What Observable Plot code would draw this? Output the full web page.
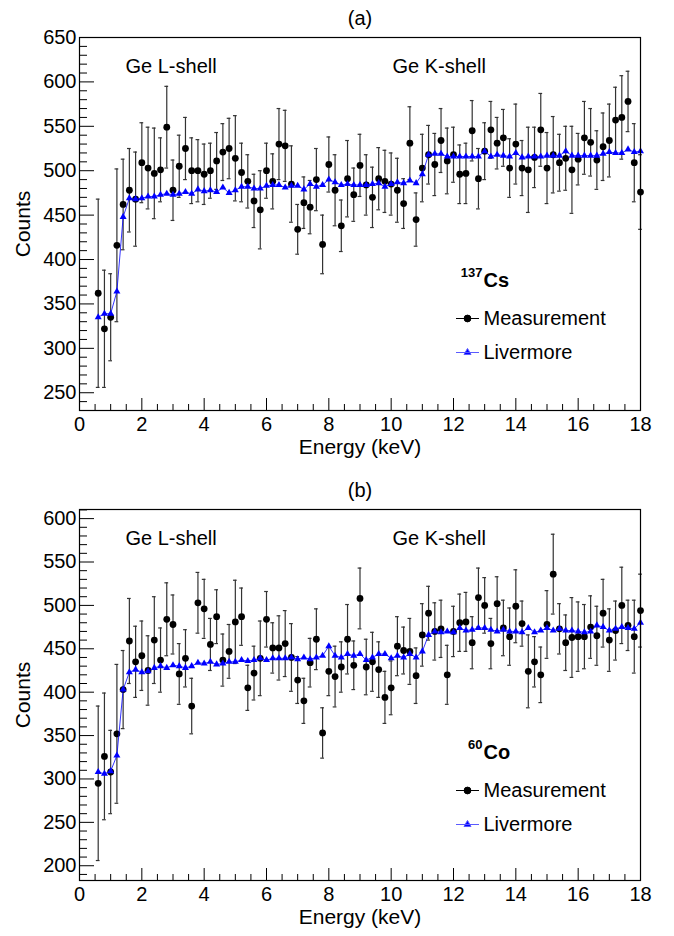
<!DOCTYPE html>
<html><head><meta charset="utf-8">
<script src="https://cdn.jsdelivr.net/npm/d3@7"></script>
<script src="https://cdn.jsdelivr.net/npm/@observablehq/plot@0.6"></script>
<style>
body{margin:0;background:#fff;}
#wrap{position:relative;width:674px;height:936px;overflow:hidden;}
#wrap svg{position:absolute;left:0;}
</style></head><body><div id="wrap"></div>
<script>
// Energy bins (keV)
const energy = [0.6,0.8,1.0,1.2,1.4,1.6,1.8,2.0,2.2,2.4,2.6,2.8,3.0,3.2,3.4,3.6,3.8,4.0,4.2,4.4,4.6,4.8,5.0,5.2,5.4,5.6,5.8,6.0,6.2,6.4,6.6,6.8,7.0,7.2,7.4,7.6,7.8,8.0,8.2,8.4,8.6,8.8,9.0,9.2,9.4,9.6,9.8,10.0,10.2,10.4,10.6,10.8,11.0,11.2,11.4,11.6,11.8,12.0,12.2,12.4,12.6,12.8,13.0,13.2,13.4,13.6,13.8,14.0,14.2,14.4,14.6,14.8,15.0,15.2,15.4,15.6,15.8,16.0,16.2,16.4,16.6,16.8,17.0,17.2,17.4,17.6,17.8,18.0];

// (a) 137Cs
const csMeas = [362,322,335,416,462,478,468,509,503,497,501,549,478,505,525,500,500,496,500,511,521,525,514,498,488,466,456,500,488,530,528,485,434,464,459,490,417,507,478,438,491,473,506,484,470,491,488,485,478,463,531,445,503,518,507,534,511,518,496,497,545,491,522,546,531,537,503,530,503,501,515,546,503,518,509,514,501,513,537,532,512,527,534,557,560,578,509,476];
const csErr = [106,66,49,86,51,47,53,45,46,51,36,46,34,35,35,37,35,34,31,32,32,34,48,33,30,30,44,31,31,40,40,43,28,29,30,35,33,31,40,29,43,30,35,34,34,35,35,35,36,28,41,30,38,33,35,36,37,31,33,34,34,34,32,32,29,32,33,45,31,48,34,41,40,43,32,36,49,29,41,38,33,38,41,37,47,34,44,42];
const csLiv = [335,339,339,364,448,469,468,469,471,471,473,474,473,474,476,474,479,477,478,476,481,475,478,482,482,480,480,483,484,484,481,483,483,479,485,482,484,490,487,484,485,484,484,484,485,486,482,485,487,486,489,486,496,518,519,519,516,516,516,516,516,516,522,516,518,517,516,520,515,516,516,516,517,517,517,522,517,517,517,517,517,519,521,520,520,524,521,522];

// (b) 60Co
const coMeas = [295,326,308,352,403,459,435,442,425,460,437,484,478,421,439,384,503,496,455,487,437,447,481,487,405,422,439,484,451,451,456,440,414,390,434,461,353,424,418,429,461,431,508,429,435,426,394,405,453,448,447,419,466,491,470,473,420,470,480,481,457,509,500,456,502,474,464,499,479,424,435,420,478,536,473,457,463,464,464,475,465,491,460,471,500,477,464,494];
const coErr = [89,73,48,80,45,49,41,40,40,50,37,42,34,35,33,32,35,34,30,31,30,31,48,33,26,31,43,32,29,37,38,39,27,26,28,35,29,28,35,29,40,28,35,32,34,32,30,31,34,27,38,32,36,31,33,33,34,29,33,34,30,34,32,29,31,32,33,42,26,42,29,32,39,46,29,32,46,40,37,36,34,39,36,34,44,29,42,42];
const coLiv = [308,306,309,327,403,423,426,423,424,428,430,428,431,430,428,430,434,433,435,432,433,435,435,437,436,437,439,437,439,439,439,440,438,440,438,440,442,453,442,440,444,442,444,437,440,444,444,439,442,440,444,440,447,466,470,469,470,469,474,471,472,474,474,472,470,472,470,470,469,474,469,471,474,471,473,471,471,470,469,470,477,475,471,473,475,474,473,480];

// Axis ticks
const xMajor = [0,2,4,6,8,10,12,14,16,18];
const yMajorA = [250,300,350,400,450,500,550,600,650];
const yMajorB = [200,250,300,350,400,450,500,550,600];
const panelTitles = ["(a)", "(b)"];
const shellLabels = ["Ge L-shell", "Ge K-shell"];
const legendLabels = ["Measurement", "Livermore"];

const FONT = "'Liberation Sans', Arial, Helvetica, sans-serif";
const W = 674, ML = 79, MR = 34;

const measSymbol = {draw(ctx, size) {
  const r = Math.sqrt(size / Math.PI);
  ctx.moveTo(-11.5, 0); ctx.lineTo(11.5, 0);
  ctx.moveTo(r, 0); ctx.arc(0, 0, r, 0, 2 * Math.PI);
}};
const livSymbol = {draw(ctx, size) {
  ctx.moveTo(-11.5, 0); ctx.lineTo(11.5, 0);
  d3.symbolTriangle.draw(ctx, size);
}};

function panel({meas, err, liv, yDomain, yMajor, title, mass, iso, top, height, marginTop, marginBottom}) {
  const rows = energy.map((e, i) => ({e, m: meas[i], lo: meas[i] - err[i], hi: meas[i] + err[i], l: liv[i]}));
  const fw = W - ML - MR, fh = height - marginTop - marginBottom;
  const xMinor = d3.range(0, 18.01, 0.5).filter(v => v % 2 !== 0);
  const yMinor = d3.range(Math.ceil(yDomain[0] / 10) * 10, yDomain[1] + 0.01, 10).filter(v => v % 50 !== 0);
  const txt = (s, o) => Plot.text([s], {text: d => d, lineAnchor: "middle", fontSize: 20, fill: "#000", ...o});
  const svg = Plot.plot({
    width: W, height, marginLeft: ML, marginRight: MR, marginTop, marginBottom,
    style: {fontFamily: FONT, fontSize: "20px", color: "#000", background: "#fff", overflow: "visible"},
    x: {domain: [0, 18]},
    y: {domain: yDomain},
    marks: [
      Plot.axisX(xMajor, {tickSize: 0, tickPadding: 6, fontSize: 20, label: null, tickFormat: d => String(d)}),
      Plot.axisY(yMajor, {tickSize: 0, tickPadding: 3, fontSize: 20, label: null, tickFormat: d => String(d)}),
      Plot.ruleX(xMajor, {x: d => d, insetTop: fh - 12, stroke: "#000", strokeWidth: 1}),
      Plot.ruleX(xMinor, {x: d => d, insetTop: fh - 6, stroke: "#000", strokeWidth: 1}),
      Plot.ruleY(yMajor, {y: d => d, insetRight: fw - 15, stroke: "#000", strokeWidth: 1}),
      Plot.ruleY(yMinor, {y: d => d, insetRight: fw - 8, stroke: "#000", strokeWidth: 1}),
      // error bars
      Plot.ruleX(rows, {x: "e", y1: "lo", y2: "hi", stroke: "#333", strokeWidth: 1.2}),
      Plot.ruleY(rows, {y: "hi", x1: d => d.e - 0.06, x2: d => d.e + 0.06, stroke: "#333", strokeWidth: 1.2}),
      Plot.ruleY(rows, {y: "lo", x1: d => d.e - 0.06, x2: d => d.e + 0.06, stroke: "#333", strokeWidth: 1.2}),
      Plot.dot(rows, {x: "e", y: "m", r: 3.4, fill: "#000", stroke: null}),
      Plot.line(rows, {x: "e", y: "l", stroke: "#0000ff", strokeWidth: 0.8}),
      Plot.dot(rows, {x: "e", y: "l", r: 2.6, symbol: "triangle", fill: "#0000ff", stroke: null}),
      Plot.frame({stroke: "#000", strokeWidth: 1.2}),
      // texts
      txt(title, {frameAnchor: "top", dy: -19, textAnchor: "middle"}),
      txt("Energy (keV)", {frameAnchor: "bottom", dy: 37, textAnchor: "middle", fontSize: 21}),
      txt("Counts", {frameAnchor: "left", dx: -56, rotate: -90, textAnchor: "middle", fontSize: 21}),
      txt(shellLabels[0], {frameAnchor: "top-left", dx: 46, dy: 29, textAnchor: "start"}),
      txt(shellLabels[1], {frameAnchor: "top-left", dx: 313, dy: 29, textAnchor: "start"}),
      txt(mass, {frameAnchor: "top-left", dx: 403, dy: 235, textAnchor: "end", fontSize: 13, fontWeight: "bold"}),
      txt(iso, {frameAnchor: "top-left", dx: 404, dy: 243, textAnchor: "start", fontWeight: "bold"}),
      Plot.dot([0], {x: null, y: null, frameAnchor: "top-left", dx: 388, dy: 281, symbol: measSymbol, r: 3.4, fill: "#000", stroke: "#000", strokeWidth: 1}),
      Plot.dot([0], {x: null, y: null, frameAnchor: "top-left", dx: 388, dy: 315, symbol: livSymbol, r: 2.6, fill: "#0000ff", stroke: "#5a5aff", strokeWidth: 1}),
      txt(legendLabels[0], {frameAnchor: "top-left", dx: 404, dy: 281, textAnchor: "start"}),
      txt(legendLabels[1], {frameAnchor: "top-left", dx: 404, dy: 315, textAnchor: "start"})
    ]
  });
  svg.style.top = top + "px";
  return svg;
}

const wrap = document.getElementById("wrap");
wrap.appendChild(panel({meas: csMeas, err: csErr, liv: csLiv, yDomain: [230, 650], yMajor: yMajorA,
  title: panelTitles[0], mass: "137", iso: "Cs", top: 0, height: 470, marginTop: 37, marginBottom: 60}));
wrap.appendChild(panel({meas: coMeas, err: coErr, liv: coLiv, yDomain: [183, 610.5], yMajor: yMajorB,
  title: panelTitles[1], mass: "60", iso: "Co", top: 470, height: 466, marginTop: 39, marginBottom: 56}));
</script></body></html>
